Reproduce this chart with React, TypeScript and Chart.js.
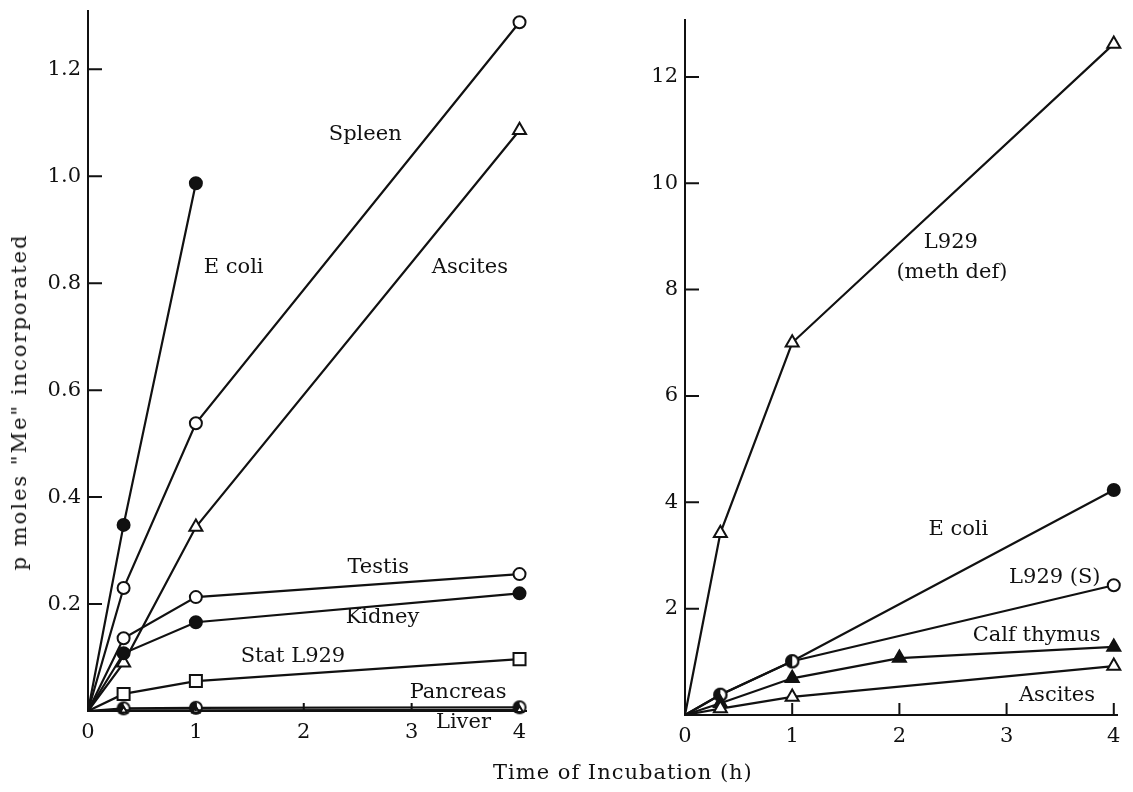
import React, { useEffect, useRef } from "react";
import { Chart, registerables } from "chart.js";

Chart.register(...registerables);

const FONT = "'DejaVu Serif', 'Liberation Serif', serif";
const INK = "#111";

// ---------- Left panel data ----------
const leftTimes = [0, 0.33, 1, 4];
const eColiLeftTimes = [0, 0.33, 1];
const eColiLeft = [0, 0.348, 0.987];
const spleen = [0, 0.23, 0.538, 1.288];
const ascitesLeft = [0, 0.09, 0.344, 1.086];
const testis = [0, 0.136, 0.213, 0.256];
const kidney = [0, 0.108, 0.166, 0.22];
const statL929 = [0, 0.032, 0.056, 0.097];
const pancreas = [0, 0.005, 0.006, 0.007];
const liver = [0, 0.001, 0.001, 0.002];

const leftXTicks = [0, 1, 2, 3, 4];
const leftYTicks = [0.2, 0.4, 0.6, 0.8, 1.0, 1.2];

const leftLabelTexts = ["Spleen", "E coli", "Ascites", "Testis", "Kidney", "Stat L929", "Pancreas", "Liver"];
const leftLabelX = [2.57, 1.35, 3.54, 2.69, 2.73, 1.9, 3.43, 3.48];
const leftLabelY = [1.078, 0.83, 0.83, 0.269, 0.174, 0.101, 0.034, -0.021];

// ---------- Right panel data ----------
const rightTimes = [0, 0.33, 1, 4];
const calfTimes = [0, 0.33, 1, 2, 4];
const l929Meth = [0, 3.42, 7.0, 12.62];
const eColiRight = [0, 0.38, 1.01, 4.23];
const l929S = [0, 0.38, 1.01, 2.44];
const calfThymus = [0, 0.22, 0.69, 1.07, 1.28];
const ascitesRight = [0, 0.12, 0.34, 0.92];

const rightXTicks = [0, 1, 2, 3, 4];
const rightYTicks = [2, 4, 6, 8, 10, 12];

const rightLabelTexts = ["L929", "(meth def)", "E coli", "L929 (S)", "Calf thymus", "Ascites"];
const rightLabelX = [2.48, 2.49, 2.55, 3.45, 3.28, 3.47];
const rightLabelY = [8.88, 8.33, 3.48, 2.58, 1.5, 0.36];

function halfCircle(r: number): HTMLCanvasElement {
  const c = document.createElement("canvas");
  const s = Math.ceil(2 * r + 4);
  c.width = s;
  c.height = s;
  const g = c.getContext("2d")!;
  const cx = s / 2;
  const cy = s / 2;
  g.beginPath();
  g.arc(cx, cy, r, 0, Math.PI * 2);
  g.fillStyle = "#fff";
  g.fill();
  g.beginPath();
  g.arc(cx, cy, r, Math.PI / 2, (Math.PI * 3) / 2);
  g.closePath();
  g.fillStyle = INK;
  g.fill();
  g.beginPath();
  g.arc(cx, cy, r, 0, Math.PI * 2);
  g.lineWidth = 2;
  g.strokeStyle = INK;
  g.stroke();
  return c;
}

function markerRadius(style: any): number {
  if (style === "triangle") return 7.5;
  if (style === "rect") return 8.5;
  return 6;
}

function ds(xs: number[], ys: number[], style: any, filled: boolean, radius?: number) {
  const styles = Array.isArray(style) ? style : xs.map(() => style);
  return {
    data: xs.map((x, i) => ({ x, y: ys[i] })),
    borderColor: INK,
    borderWidth: 2.2,
    pointStyle: styles,
    pointRadius: xs.map((x, i) => (x === 0 ? 0 : radius ?? markerRadius(styles[i]))),
    pointBackgroundColor: filled ? INK : "#fff",
    pointBorderColor: INK,
    pointBorderWidth: 2,
    tension: 0,
    fill: false,
    clip: false as any,
  };
}

function makePlugins(xTicks: number[], xLen: number, yTicks: number[], yLen: number, texts: string[], lx: number[], ly: number[]) {
  return [
    {
      id: "innerTicks",
      afterDraw(chart: any) {
        const { ctx, chartArea, scales } = chart;
        ctx.save();
        ctx.strokeStyle = INK;
        ctx.lineWidth = 2;
        ctx.beginPath();
        for (const v of yTicks) {
          const y = scales.y.getPixelForValue(v);
          ctx.moveTo(chartArea.left, y);
          ctx.lineTo(chartArea.left + yLen, y);
        }
        for (const v of xTicks) {
          const x = scales.x.getPixelForValue(v);
          ctx.moveTo(x, chartArea.bottom);
          ctx.lineTo(x, chartArea.bottom - xLen);
        }
        ctx.stroke();
        ctx.restore();
      },
    },
    {
      id: "seriesLabels",
      afterDatasetsDraw(chart: any) {
        const { ctx, scales } = chart;
        ctx.save();
        ctx.font = `21px ${FONT}`;
        ctx.fillStyle = INK;
        ctx.textAlign = "center";
        ctx.textBaseline = "middle";
        texts.forEach((t, i) => {
          ctx.fillText(t, scales.x.getPixelForValue(lx[i]), scales.y.getPixelForValue(ly[i]));
        });
        ctx.restore();
      },
    },
  ];
}

function baseOptions(opts: {
  padding: any;
  xMax: number;
  yMax: number;
  yWidth: number;
  xTicks: number[];
  yTicks: number[];
  yFmt: (v: number) => string;
}) {
  return {
    responsive: false,
    animation: false as const,
    devicePixelRatio: 1,
    events: [] as any[],
    layout: { padding: opts.padding },
    plugins: { legend: { display: false }, tooltip: { enabled: false } },
    scales: {
      x: {
        type: "linear" as const,
        min: 0,
        max: opts.xMax,
        afterBuildTicks: (s: any) => {
          s.ticks = opts.xTicks.map((v) => ({ value: v }));
        },
        afterFit: (s: any) => {
          s.height = 40;
          s.paddingLeft = 0;
          s.paddingRight = 0;
        },
        grid: { display: false, drawTicks: false },
        border: { display: true, color: INK, width: 2 },
        ticks: {
          font: { family: FONT, size: 21 },
          color: INK,
          padding: 9,
          maxRotation: 0,
          autoSkip: false,
          callback: (v: any) => String(v),
        },
      },
      y: {
        type: "linear" as const,
        min: 0,
        max: opts.yMax,
        afterBuildTicks: (s: any) => {
          s.ticks = opts.yTicks.map((v) => ({ value: v }));
        },
        afterFit: (s: any) => {
          s.width = opts.yWidth;
          s.paddingTop = 0;
          s.paddingBottom = 0;
        },
        grid: { display: false, drawTicks: false },
        border: { display: true, color: INK, width: 2 },
        ticks: {
          font: { family: FONT, size: 21 },
          color: INK,
          padding: 7,
          autoSkip: false,
          callback: (v: any) => opts.yFmt(Number(v)),
        },
      },
    },
  };
}

export default function App() {
  const leftRef = useRef<HTMLCanvasElement>(null);
  const rightRef = useRef<HTMLCanvasElement>(null);

  useEffect(() => {
    const half = halfCircle(6);

    const left = new Chart(leftRef.current!, {
      type: "line",
      data: {
        datasets: [
          ds(leftTimes, liver, "triangle", false, 4),
          ds(leftTimes, pancreas, half, false),
          ds(leftTimes, statL929, "rect", false),
          ds(leftTimes, kidney, "circle", true),
          ds(leftTimes, testis, "circle", false),
          ds(leftTimes, ascitesLeft, "triangle", false),
          ds(leftTimes, spleen, "circle", false),
          ds(eColiLeftTimes, eColiLeft, "circle", true),
        ] as any,
      },
      options: baseOptions({
        padding: { left: 0, top: 10, right: 54, bottom: 41 },
        xMax: 4.06,
        yMax: 1.31,
        yWidth: 88,
        xTicks: leftXTicks,
        yTicks: leftYTicks,
        yFmt: (v) => v.toFixed(1),
      }) as any,
      plugins: makePlugins([1, 2, 3], 8, leftYTicks, 14, leftLabelTexts, leftLabelX, leftLabelY) as any,
    });

    const right = new Chart(rightRef.current!, {
      type: "line",
      data: {
        datasets: [
          ds(rightTimes, ascitesRight, "triangle", false),
          ds(calfTimes, calfThymus, "triangle", true),
          ds(rightTimes, l929S, ["circle", half, half, "circle"], false),
          ds(rightTimes, eColiRight, ["circle", half, half, "circle"], true),
          ds(rightTimes, l929Meth, "triangle", false),
        ] as any,
      },
      options: baseOptions({
        padding: { left: 0, top: 20, right: 16, bottom: 37 },
        xMax: 4.03,
        yMax: 13.07,
        yWidth: 105,
        xTicks: rightXTicks,
        yTicks: rightYTicks,
        yFmt: (v) => String(v),
      }) as any,
      plugins: makePlugins([1, 2, 3, 4], 12, rightYTicks, 14, rightLabelTexts, rightLabelX, rightLabelY) as any,
    });

    return () => {
      left.destroy();
      right.destroy();
    };
  }, []);

  return (
    <div style={{ position: "absolute", left: 0, top: 0, width: 1133, height: 792, background: "#fff", overflow: "hidden" }}>
      <canvas ref={leftRef} width={580} height={792} style={{ position: "absolute", left: 0, top: 0, width: 580, height: 792 }} />
      <canvas ref={rightRef} width={553} height={792} style={{ position: "absolute", left: 580, top: 0, width: 553, height: 792 }} />
      <div
        style={{
          position: "absolute",
          left: 19,
          top: 402,
          transform: "translate(-50%, -50%) rotate(-90deg)",
          whiteSpace: "nowrap",
          font: `21px ${FONT}`,
          letterSpacing: "2px",
          color: INK,
          lineHeight: "24px",
        }}
      >
        p moles "Me" incorporated
      </div>
      <div
        style={{
          position: "absolute",
          left: 493,
          top: 760,
          whiteSpace: "nowrap",
          font: `21px ${FONT}`,
          letterSpacing: "1px",
          color: INK,
          lineHeight: "24px",
        }}
      >
        Time of Incubation (h)
      </div>
    </div>
  );
}
